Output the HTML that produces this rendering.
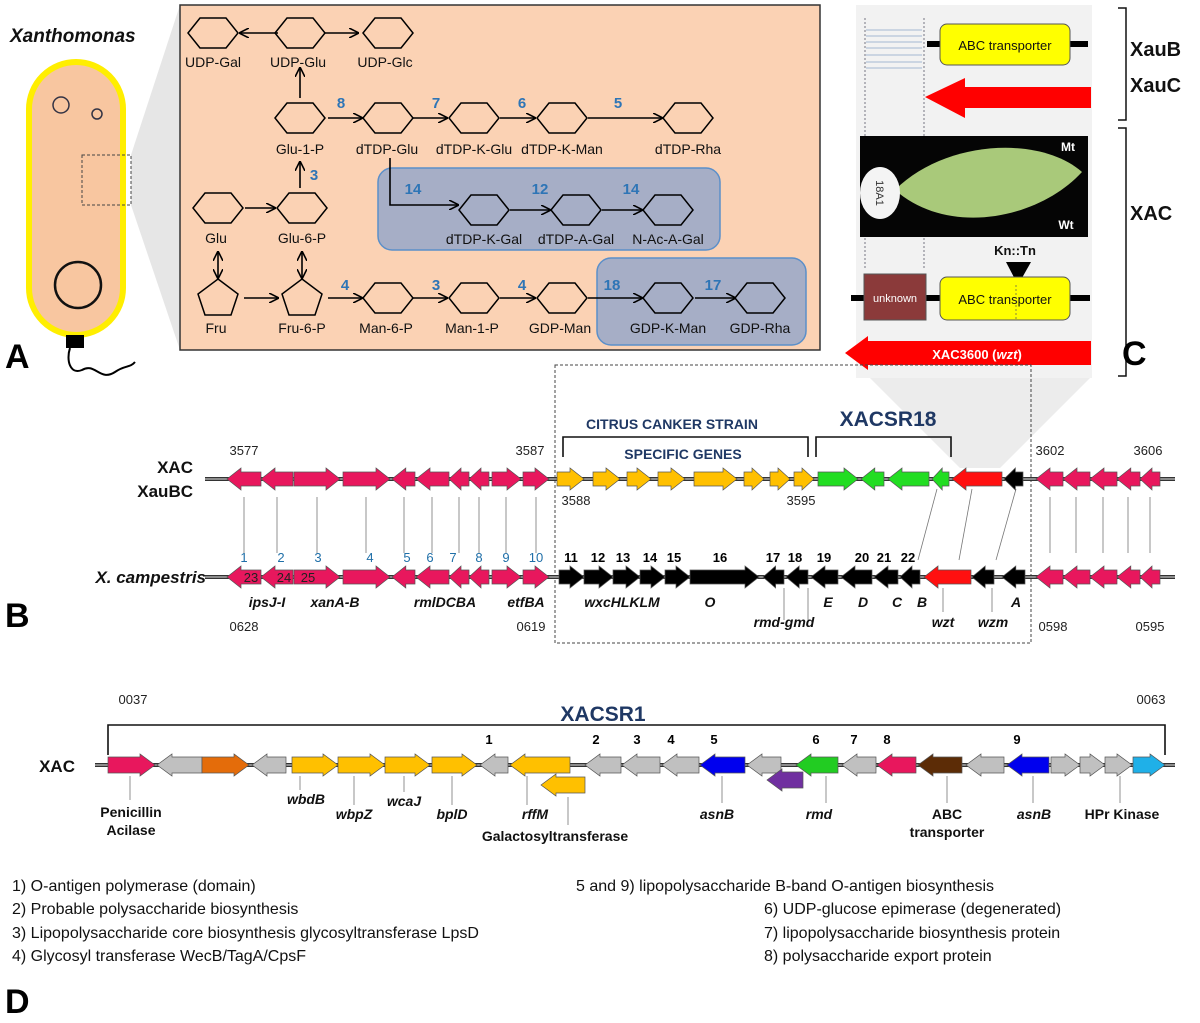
<!DOCTYPE html>
<html><head><meta charset="utf-8">
<style>
html,body{margin:0;padding:0;background:#fff;}
svg{display:block;font-family:"Liberation Sans",Arial,sans-serif;}
.l{font-size:14px;fill:#111;text-anchor:middle;}
.n{font-size:15px;font-weight:bold;fill:#2e75b6;text-anchor:middle;}
.bn{font-size:13px;fill:#222;text-anchor:middle;}
.bl{font-size:13px;fill:#1f6fa8;text-anchor:middle;}
.bk{font-size:13px;fill:#000;font-weight:bold;text-anchor:middle;}
.it{font-size:14px;font-weight:bold;font-style:italic;fill:#111;text-anchor:middle;}
.foot{font-size:16px;fill:#111;}
.big{font-size:34px;font-weight:bold;fill:#000;}
</style></head>
<body>
<svg id="s" width="1200" height="1023" viewBox="0 0 1200 1023" xmlns="http://www.w3.org/2000/svg">
<defs>
<marker id="ar" markerWidth="10" markerHeight="10" refX="9" refY="5" orient="auto" markerUnits="userSpaceOnUse"><path d="M0,0 L10,5 L0,10" fill="none" stroke="#000" stroke-width="1.6"/></marker>
<marker id="ars" markerWidth="10" markerHeight="10" refX="1" refY="5" orient="auto" markerUnits="userSpaceOnUse"><path d="M10,0 L0,5 L10,10" fill="none" stroke="#000" stroke-width="1.6"/></marker>
</defs>

<!-- PANEL A -->
<text x="10" y="42" font-size="19" font-weight="bold" font-style="italic" fill="#111">Xanthomonas</text>
<polygon points="131,155 180,5 180,350 131,205" fill="#e6e6e6"/>
<rect x="29" y="62" width="94" height="273" rx="47" fill="#f8c6a0" stroke="#ffee00" stroke-width="6"/>
<circle cx="61" cy="105" r="8" fill="none" stroke="#334" stroke-width="1.5"/>
<circle cx="97" cy="114" r="5" fill="none" stroke="#334" stroke-width="1.5"/>
<circle cx="78" cy="285" r="23" fill="none" stroke="#111" stroke-width="2.5"/>
<rect x="82" y="155" width="49" height="50" fill="none" stroke="#444" stroke-dasharray="3,2"/>
<rect x="66" y="335" width="18" height="13" fill="#000"/>
<path d="M70,348 C66,360 70,375 82,370 C95,362 100,382 115,372 C125,365 130,368 135,362" fill="none" stroke="#000" stroke-width="2"/>
<text x="5" y="368" class="big">A</text>

<rect x="180" y="5" width="640" height="345" fill="#fbd2b4" stroke="#333" stroke-width="1.5"/>
<rect x="378" y="168" width="342" height="82" rx="14" fill="#a6aec6" stroke="#5b8fc9" stroke-width="1.5"/>
<rect x="597" y="258" width="209" height="87" rx="14" fill="#a6aec6" stroke="#5b8fc9" stroke-width="1.5"/>
<g id="nodes" fill="none" stroke="#000" stroke-width="1.5"></g>
<g id="arrowsA" stroke="#000" stroke-width="1.6" fill="none">
<line x1="278" y1="33" x2="240" y2="33" marker-end="url(#ar)"/>
<line x1="324" y1="33" x2="358" y2="33" marker-end="url(#ar)"/>
<line x1="300" y1="98" x2="300" y2="68" marker-end="url(#ar)"/>
<line x1="328" y1="118" x2="362" y2="118" marker-end="url(#ar)"/>
<line x1="413" y1="118" x2="447" y2="118" marker-end="url(#ar)"/>
<line x1="500" y1="118" x2="535" y2="118" marker-end="url(#ar)"/>
<line x1="588" y1="118" x2="662" y2="118" marker-end="url(#ar)"/>
<polyline points="390,158 390,205 458,205" marker-end="url(#ar)"/>
<line x1="510" y1="210" x2="550" y2="210" marker-end="url(#ar)"/>
<line x1="602" y1="210" x2="642" y2="210" marker-end="url(#ar)"/>
<line x1="300" y1="188" x2="300" y2="162" marker-end="url(#ar)"/>
<line x1="245" y1="208" x2="275" y2="208" marker-end="url(#ar)"/>
<line x1="218" y1="252" x2="218" y2="278" marker-end="url(#ar)" marker-start="url(#ars)"/>
<line x1="302" y1="252" x2="302" y2="278" marker-end="url(#ar)" marker-start="url(#ars)"/>
<line x1="244" y1="298" x2="278" y2="298" marker-end="url(#ar)"/>
<line x1="328" y1="298" x2="362" y2="298" marker-end="url(#ar)"/>
<line x1="412" y1="298" x2="447" y2="298" marker-end="url(#ar)"/>
<line x1="500" y1="298" x2="535" y2="298" marker-end="url(#ar)"/>
<line x1="588" y1="298" x2="642" y2="298" marker-end="url(#ar)"/>
<line x1="695" y1="298" x2="735" y2="298" marker-end="url(#ar)"/>
</g>
<g>
<text x="213" y="67" class="l">UDP-Gal</text><text x="298" y="67" class="l">UDP-Glu</text><text x="385" y="67" class="l">UDP-Glc</text>
<text x="300" y="154" class="l">Glu-1-P</text><text x="387" y="154" class="l">dTDP-Glu</text><text x="474" y="154" class="l">dTDP-K-Glu</text><text x="562" y="154" class="l">dTDP-K-Man</text><text x="688" y="154" class="l">dTDP-Rha</text>
<text x="484" y="244" class="l">dTDP-K-Gal</text><text x="576" y="244" class="l">dTDP-A-Gal</text><text x="668" y="244" class="l">N-Ac-A-Gal</text>
<text x="216" y="243" class="l">Glu</text><text x="302" y="243" class="l">Glu-6-P</text>
<text x="216" y="333" class="l">Fru</text><text x="302" y="333" class="l">Fru-6-P</text><text x="386" y="333" class="l">Man-6-P</text><text x="472" y="333" class="l">Man-1-P</text><text x="560" y="333" class="l">GDP-Man</text><text x="668" y="333" class="l">GDP-K-Man</text><text x="760" y="333" class="l">GDP-Rha</text>
<text x="341" y="108" class="n">8</text><text x="436" y="108" class="n">7</text><text x="522" y="108" class="n">6</text><text x="618" y="108" class="n">5</text>
<text x="314" y="180" class="n">3</text>
<text x="413" y="194" class="n">14</text><text x="540" y="194" class="n">12</text><text x="631" y="194" class="n">14</text>
<text x="345" y="290" class="n">4</text><text x="436" y="290" class="n">3</text><text x="522" y="290" class="n">4</text><text x="612" y="290" class="n">18</text><text x="713" y="290" class="n">17</text>
</g>

<!-- PANEL C -->
<polygon points="870,378 1090,378 1000,468 960,468" fill="#ececec"/>
<rect x="856" y="5" width="236" height="373" fill="#f2f2f2"/>
<line x1="865" y1="18" x2="865" y2="270" stroke="#556" stroke-dasharray="2,2" stroke-width="0.8"/>
<line x1="924" y1="18" x2="924" y2="270" stroke="#556" stroke-dasharray="2,2" stroke-width="0.8"/>
<g stroke="#8aa4c8" stroke-width="0.8"><line x1="866" y1="30" x2="922" y2="30"/><line x1="866" y1="36" x2="922" y2="36"/><line x1="866" y1="42" x2="922" y2="42"/><line x1="866" y1="48" x2="922" y2="48"/><line x1="866" y1="55" x2="922" y2="55"/><line x1="866" y1="62" x2="922" y2="62"/><line x1="866" y1="68" x2="922" y2="68"/></g>
<line x1="927" y1="44" x2="1088" y2="44" stroke="#000" stroke-width="6"/>
<rect x="940" y="24" width="130" height="41" rx="7" fill="#ffff00" stroke="#555"/>
<text x="1005" y="50" font-size="13" text-anchor="middle" fill="#111">ABC transporter</text>
<polygon points="925,97 965,78 965,87 1091,87 1091,108 965,108 965,118" fill="#ff0000"/>
<rect x="860" y="136" width="228" height="101" fill="#050505"/>
<path d="M895,190 C945,140 1040,135 1082,172 C1040,218 950,238 895,190 Z" fill="#a9c97a"/>
<ellipse cx="880" cy="193" rx="20" ry="26" fill="#f4f4f4"/>
<text x="880" y="197" font-size="11" text-anchor="middle" fill="#333" transform="rotate(90 880 193)">18A1</text>
<text x="1068" y="151" font-size="12" font-weight="bold" fill="#fff" text-anchor="middle">Mt</text>
<text x="1066" y="229" font-size="12" font-weight="bold" fill="#fff" text-anchor="middle">Wt</text>
<text x="1015" y="255" font-size="13" font-weight="bold" text-anchor="middle" fill="#111">Kn::Tn</text>
<polygon points="1006,262 1031,262 1018,285" fill="#000"/>
<line x1="851" y1="298" x2="1090" y2="298" stroke="#000" stroke-width="6"/>
<rect x="864" y="274" width="62" height="46" fill="#8b3a3a" stroke="#555"/>
<text x="895" y="302" font-size="11" fill="#fff" text-anchor="middle">unknown</text>
<rect x="940" y="277" width="130" height="43" rx="7" fill="#ffff00" stroke="#555"/>
<text x="1005" y="304" font-size="13" text-anchor="middle" fill="#111">ABC transporter</text>
<line x1="1016" y1="285" x2="1016" y2="320" stroke="#555" stroke-dasharray="2,2" stroke-width="0.7"/>
<polygon points="845,353 868,336 868,341 1091,341 1091,365 868,365 868,370" fill="#ff0000"/>
<text x="977" y="359" font-size="13" font-weight="bold" fill="#fff" text-anchor="middle">XAC3600 (<tspan font-style="italic">wzt</tspan>)</text>
<path d="M1118,8 L1126,8 L1126,120 L1118,120 M1118,128 L1126,128 L1126,376 L1118,376" fill="none" stroke="#111" stroke-width="1.5"/>
<text x="1130" y="56" font-size="20" font-weight="bold" fill="#111">XauB</text>
<text x="1130" y="92" font-size="20" font-weight="bold" fill="#111">XauC</text>
<text x="1130" y="220" font-size="20" font-weight="bold" fill="#111">XAC</text>
<text x="1122" y="365" class="big">C</text>

<!-- PANEL B -->
<rect x="555" y="365" width="476" height="278" fill="none" stroke="#444" stroke-dasharray="3,2"/>
<g stroke="#333" stroke-width="4"><line x1="205" y1="479" x2="1175" y2="479"/><line x1="205" y1="577" x2="1175" y2="577"/></g>
<g stroke="#aaa" stroke-width="1.5"><line x1="205" y1="479" x2="1175" y2="479"/><line x1="205" y1="577" x2="1175" y2="577"/></g>
<g id="lnB" stroke="#777" stroke-width="0.8"></g>
<g id="genes"></g>
<text x="193" y="473" font-size="17" font-weight="bold" text-anchor="end" fill="#111">XAC</text>
<text x="193" y="497" font-size="17" font-weight="bold" text-anchor="end" fill="#111">XauBC</text>
<text x="206" y="583" font-size="17" font-weight="bold" font-style="italic" text-anchor="end" fill="#111">X. campestris</text>
<text x="5" y="627" class="big">B</text>
<path d="M563,457 L563,437 L808,437 L808,457 M816,457 L816,437 L951,437 L951,457" fill="none" stroke="#111" stroke-width="1.6"/>
<text x="672" y="429" font-size="14" font-weight="bold" fill="#1f3864" text-anchor="middle">CITRUS CANKER STRAIN</text>
<text x="683" y="459" font-size="14" font-weight="bold" fill="#1f3864" text-anchor="middle">SPECIFIC GENES</text>
<text x="888" y="426" font-size="21" font-weight="bold" fill="#1f3864" text-anchor="middle">XACSR18</text>
<g font-size="13" fill="#222" text-anchor="middle">
<text x="244" y="455">3577</text><text x="530" y="455">3587</text><text x="1050" y="455">3602</text><text x="1148" y="455">3606</text>
<text x="576" y="505">3588</text><text x="801" y="505">3595</text>
<text x="244" y="631">0628</text><text x="531" y="631">0619</text><text x="1053" y="631">0598</text><text x="1150" y="631">0595</text>
</g>
<g id="numB"></g>
<g>
<text x="267" y="607" class="it">ipsJ-I</text><text x="335" y="607" class="it">xanA-B</text><text x="445" y="607" class="it">rmlDCBA</text><text x="526" y="607" class="it">etfBA</text>
<text x="622" y="607" class="it">wxcHLKLM</text><text x="710" y="607" class="it">O</text><text x="828" y="607" class="it">E</text><text x="863" y="607" class="it">D</text><text x="897" y="607" class="it">C</text><text x="922" y="607" class="it">B</text><text x="1016" y="607" class="it">A</text>
<text x="784" y="627" class="it">rmd-gmd</text><text x="943" y="627" class="it">wzt</text><text x="993" y="627" class="it">wzm</text>
</g>

<!-- PANEL D -->
<path d="M108,755 L108,725 L1165,725 L1165,755" fill="none" stroke="#111" stroke-width="1.6"/>
<text x="603" y="721" font-size="21" font-weight="bold" fill="#1f3864" text-anchor="middle">XACSR1</text>
<text x="133" y="704" font-size="13" fill="#222" text-anchor="middle">0037</text>
<text x="1151" y="704" font-size="13" fill="#222" text-anchor="middle">0063</text>
<g stroke="#333" stroke-width="4"><line x1="95" y1="765" x2="1175" y2="765"/></g>
<g stroke="#aaa" stroke-width="1.5"><line x1="95" y1="765" x2="1175" y2="765"/></g>
<g id="lnD" stroke="#777" stroke-width="0.8"></g>
<g id="genesD"></g>
<text x="75" y="772" font-size="17" font-weight="bold" text-anchor="end" fill="#111">XAC</text>
<g>
<text x="489" y="744" class="bk" font-size="14">1</text><text x="596" y="744" class="bk" font-size="14">2</text><text x="637" y="744" class="bk" font-size="14">3</text><text x="671" y="744" class="bk" font-size="14">4</text><text x="714" y="744" class="bk" font-size="14">5</text><text x="816" y="744" class="bk" font-size="14">6</text><text x="854" y="744" class="bk" font-size="14">7</text><text x="887" y="744" class="bk" font-size="14">8</text><text x="1017" y="744" class="bk" font-size="14">9</text>
</g>
<g font-size="14" fill="#111" text-anchor="middle" font-weight="bold">
<text x="131" y="817">Penicillin</text><text x="131" y="835">Acilase</text>
<text x="306" y="804" font-style="italic">wbdB</text><text x="354" y="819" font-style="italic">wbpZ</text><text x="404" y="806" font-style="italic">wcaJ</text><text x="452" y="819" font-style="italic">bplD</text>
<text x="535" y="819" font-style="italic">rffM</text><text x="555" y="841">Galactosyltransferase</text>
<text x="717" y="819" font-style="italic">asnB</text><text x="819" y="819" font-style="italic">rmd</text>
<text x="947" y="819">ABC</text><text x="947" y="837">transporter</text>
<text x="1034" y="819" font-style="italic">asnB</text><text x="1122" y="819">HPr Kinase</text>
</g>
<g class="foot">
<text x="12" y="891">1)  O-antigen polymerase (domain)</text>
<text x="12" y="914">2)  Probable polysaccharide biosynthesis</text>
<text x="12" y="938">3)  Lipopolysaccharide core biosynthesis glycosyltransferase LpsD</text>
<text x="12" y="961">4)  Glycosyl transferase WecB/TagA/CpsF</text>
<text x="576" y="891">5 and 9) lipopolysaccharide B-band O-antigen biosynthesis</text>
<text x="764" y="914">6) UDP-glucose epimerase (degenerated)</text>
<text x="764" y="938">7) lipopolysaccharide biosynthesis protein</text>
<text x="764" y="961">8) polysaccharide export protein</text>
</g>
<text x="5" y="1013" class="big">D</text>
</svg>
<script>
var NS="http://www.w3.org/2000/svg";
function el(p,t,a){var e=document.createElementNS(NS,t);for(var k in a)e.setAttribute(k,a[k]);document.getElementById(p).appendChild(e);return e;}
function hex(cx,cy){var w=25,h=15,i=12;el("nodes","polygon",{points:[cx-w,cy,cx-w+i,cy-h,cx+w-i,cy-h,cx+w,cy,cx+w-i,cy+h,cx-w+i,cy+h].join(",")});}
function pent(cx,cy){el("nodes","polygon",{points:[cx,cy-19,cx+20,cy-4,cx+13,cy+17,cx-13,cy+17,cx-20,cy-4].join(",")});}
[[213,33],[300,33],[388,33],[300,118],[388,118],[474,118],[562,118],[688,118],[484,210],[576,210],[668,210],[218,208],[302,208],[388,298],[474,298],[562,298],[668,298],[760,298]].forEach(function(p){hex(p[0],p[1]);});
pent(218,298);pent(302,298);
function gene(g,x1,x2,y,d,c,sh,hh,hl){var L=Math.min(hl,(x2-x1)*0.6);var p;
if(d>0)p=[x1,y-sh,x2-L,y-sh,x2-L,y-hh,x2,y,x2-L,y+hh,x2-L,y+sh,x1,y+sh];
else p=[x2,y-sh,x1+L,y-sh,x1+L,y-hh,x1,y,x1+L,y+hh,x1+L,y+sh,x2,y+sh];
el(g,"polygon",{points:p.join(","),fill:c,stroke:"#555","stroke-width":0.7});}
var P="#e8175d",O="#ffc000",G="#22dd22",R="#ff1010",K="#000",GR="#c0c0c0";
var pinkL=[[227,261,-1],[261,293,-1],[294,340,1],[343,390,1],[392,415,-1],[416,449,-1],[449,469,-1],[469,489,-1],[492,521,1],[523,549,1]];
var pinkR=[[1036,1063,-1],[1063,1090,-1],[1090,1117,-1],[1117,1140,-1],[1140,1160,-1]];
function B(y,list,c){list.forEach(function(a){gene("genes",a[0],a[1],y,a[2],a[3]||c,7,11,14);});}
B(479,pinkL,P);B(577,pinkL,P);B(479,pinkR,P);B(577,pinkR,P);
B(479,[[557,584,1],[593,620,1],[627,651,1],[658,685,1],[694,737,1],[744,764,1],[770,790,1],[794,814,1]],O);
B(479,[[818,858,1],[861,884,-1],[888,929,-1],[932,949,-1]],G);
B(479,[[952,1002,-1,R],[1004,1023,-1,K]]);
B(577,[[559,584,1],[584,613,1],[613,640,1],[640,665,1],[665,690,1],[690,759,1],[763,784,-1],[786,808,-1],[811,838,-1],[841,872,-1],[874,898,-1],[900,920,-1]],K);
B(577,[[924,971,-1,R],[972,994,-1,K],[1002,1025,-1,K]]);
[244,277,317,366,404,432,459,479,506,536,1050,1076,1103,1128,1150].forEach(function(x){el("lnB","line",{x1:x,y1:497,x2:x,y2:553});});
[[937,918],[972,959],[1016,996]].forEach(function(a){el("lnB","line",{x1:a[0],y1:489,x2:a[1],y2:560});});
[[784,588,620],[808,588,620],[943,588,612],[992,588,612]].forEach(function(a){el("lnB","line",{x1:a[0],y1:a[1],x2:a[0],y2:a[2]});});
var bl=[[1,244],[2,281],[3,318],[4,370],[5,407],[6,430],[7,453],[8,479],[9,506],[10,536]];
bl.forEach(function(a){var t=el("numB","text",{x:a[1],y:562,"class":"bl"});t.textContent=a[0];});
var bk=[[11,571],[12,598],[13,623],[14,650],[15,674],[16,720],[17,773],[18,795],[19,824],[20,862],[21,884],[22,908]];
bk.forEach(function(a){var t=el("numB","text",{x:a[1],y:562,"class":"bk"});t.textContent=a[0];});
[[23,251],[24,284],[25,308]].forEach(function(a){var t=el("numB","text",{x:a[1],y:582,"class":"bn","fill":"#400"});t.textContent=a[0];});
function D(list){list.forEach(function(a){gene("genesD",a[0],a[1],a[4]||765,a[2],a[3],8,11,15);});}
D([[108,155,1,P],[157,202,-1,GR],[202,249,1,"#e46c0a"],[252,286,-1,GR],[292,338,1,O],[338,385,1,O],[385,430,1,O],[432,477,1,O],[480,508,-1,GR],[510,570,-1,O],[541,585,-1,O,785],[585,621,-1,GR],[622,660,-1,GR],[662,699,-1,GR],[700,745,-1,"#0000ee"],[747,781,-1,GR],[767,803,-1,"#7030a0",780],[796,838,-1,"#22cc22"],[842,876,-1,GR],[877,916,-1,P],[918,962,-1,"#5c2c06"],[966,1004,-1,GR],[1007,1049,-1,"#0000ee"],[1051,1080,1,GR],[1080,1105,1,GR],[1105,1132,1,GR],[1133,1165,1,"#1fb0e8"]]);
[[130,776,800],[300,776,790],[354,776,805],[404,776,792],[452,776,805],[527,776,805],[568,797,825],[722,776,803],[826,776,803],[947,776,803],[1033,776,803],[1120,776,803]].forEach(function(a){el("lnD","line",{x1:a[0],y1:a[1],x2:a[0],y2:a[2]});});
</script>
</body></html>
